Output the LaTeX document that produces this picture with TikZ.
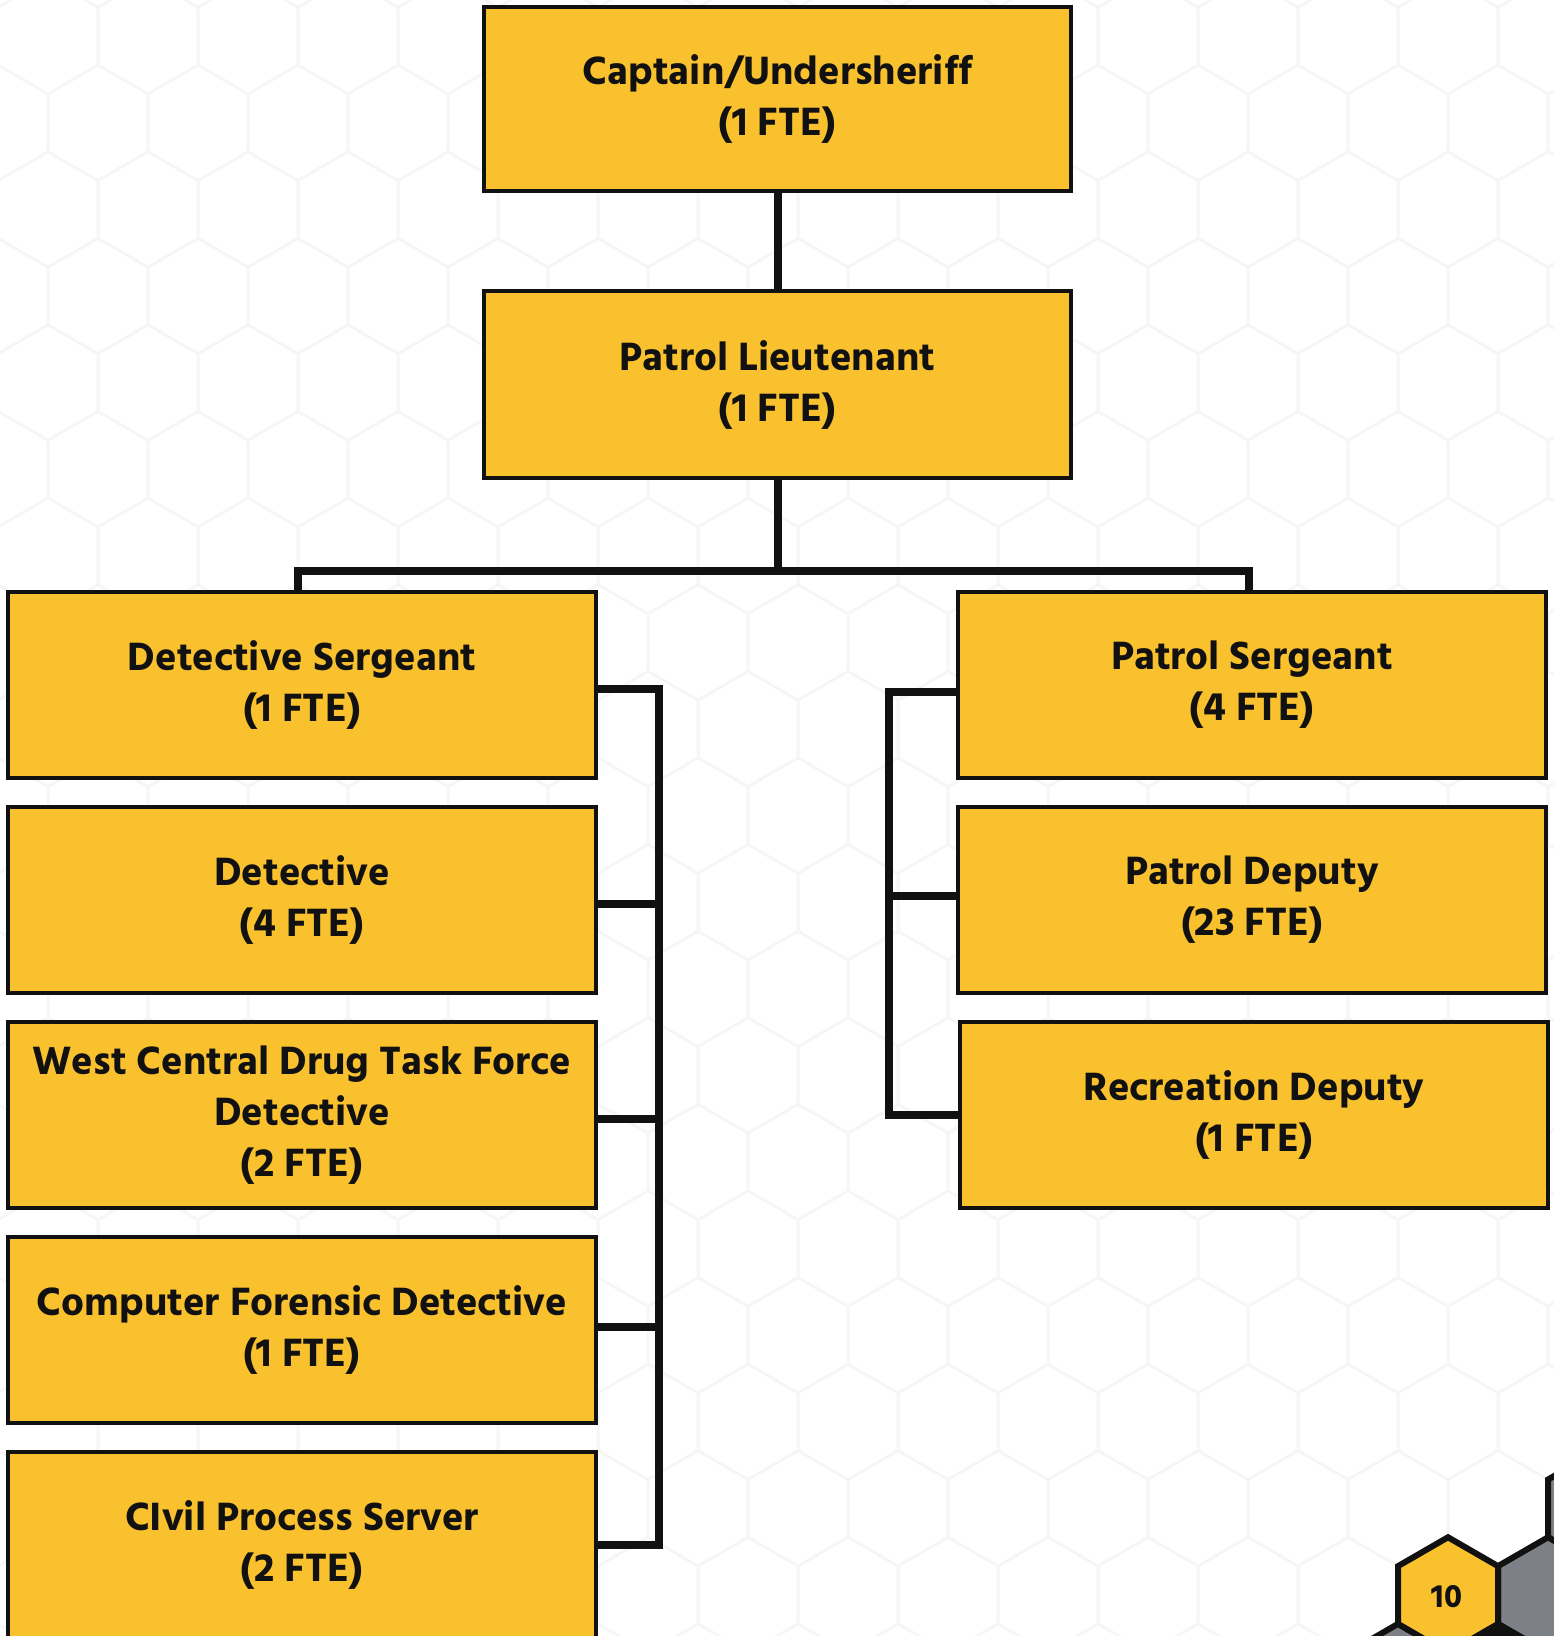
\documentclass[tikz,border=0pt]{standalone}
\usepackage{fontspec}
\setmainfont{Hind Siliguri}[BoldFont={Hind Siliguri Bold}]
\usetikzlibrary{calc}
\definecolor{boxyellow}{HTML}{FAC12F}
\definecolor{hexgray}{HTML}{7D8086}
\definecolor{bgline}{HTML}{F6F6F6}
\definecolor{ink}{HTML}{111111}
\tikzset{
  hexa/.pic={\path[pic actions] (0,-57.74) -- (50,-28.87) -- (50,28.87) -- (0,57.74) -- (-50,28.87) -- (-50,-28.87) -- cycle;},
  rolebox/.style={draw=ink, line width=4pt, fill=boxyellow, minimum width=588pt, minimum height=186pt,
    align=center, inner sep=0pt, text=ink, font=\bfseries\fontsize{40.5}{51}\selectfont},
  conn/.style={draw=ink, line width=8pt, line join=miter},
  bghex/.style={draw=bgline, line width=2.5pt},
  cornerhex/.style={draw=ink, line width=6pt}
}
\begin{document}
\begin{tikzpicture}[x=1pt,y=-1pt]
\useasboundingbox (0,0) rectangle (1554,1636);
\clip (0,0) rectangle (1554,1636);
\fill[white] (0,0) rectangle (1554,1636);
% background honeycomb
\foreach \j in {-19,...,1}{
  \pgfmathsetmacro{\ox}{mod(\j+40,2)==0 ? 48 : -2}
  \foreach \k in {-1,...,16}{
    \pic[bghex] at ({\ox+100*\k},{1595+86.6*\j}) {hexa};
  }
}
% corner hexagons
\pic[cornerhex, fill=hexgray] at (1598,1508.4) {hexa};
\pic[cornerhex, fill=hexgray] at (1548,1595) {hexa};
\pic[cornerhex, fill=hexgray] at (1398,1681.6) {hexa};
\pic[cornerhex, fill=ink] at (1498,1681.6) {hexa};
\pic[cornerhex, fill=boxyellow] at (1448,1595) {hexa};
\node[text=ink, font=\bfseries\fontsize{33}{36}\selectfont] (pg) at (1447,1597) {10};
% boxes
\node[rolebox, minimum width=587pt, minimum height=184pt] (cap) at (777.5,99) {Captain/Undersheriff\\(1 FTE)};
\node[rolebox, minimum width=587pt, minimum height=187pt] (lt) at (777.5,384.5) {Patrol Lieutenant\\(1 FTE)};
\node[rolebox] (ds) at (302,685) {Detective Sergeant\\(1 FTE)};
\node[rolebox] (det) at (302,900) {Detective\\(4 FTE)};
\node[rolebox] (wc) at (302,1115) {West Central Drug Task Force\\Detective\\(2 FTE)};
\node[rolebox] (cf) at (302,1330) {Computer Forensic Detective\\(1 FTE)};
\node[rolebox] (cp) at (302,1545) {CIvil Process Server\\(2 FTE)};
\node[rolebox] (ps) at (1252,685) {Patrol Sergeant\\(4 FTE)};
\node[rolebox] (pd) at (1252,900) {Patrol Deputy\\(23 FTE)};
\node[rolebox] (rd) at (1254,1115) {Recreation Deputy\\(1 FTE)};
% connectors
\coordinate (busL) at (298,571);
\coordinate (busR) at (1249,571);
\coordinate (lbx) at (659,0);
\coordinate (rbx) at (889,0);
\draw[conn] (cap.south) -- (lt.north);
\draw[conn] (lt.south) -- (lt.south |- busL);
\draw[conn] (busL |- ds.north) -- (busL) -- (busR) -- (busR |- ps.north);
\draw[conn] ([yshift=-4pt]ds.east) -- ([yshift=-4pt]ds.east -| lbx) -- (cp.east -| lbx) -- (cp.east);
\draw[conn] ([yshift=-4pt]det.east) -- ([yshift=-4pt]det.east -| lbx);
\draw[conn] ([yshift=-4pt]wc.east) -- ([yshift=-4pt]wc.east -| lbx);
\draw[conn] ([yshift=3pt]cf.east) -- ([yshift=3pt]cf.east -| lbx);
\draw[conn] ([yshift=-7pt]ps.west) -- ([yshift=-7pt]ps.west -| rbx) -- (rd.west -| rbx) -- (rd.west);
\draw[conn] ([yshift=4pt]pd.west) -- ([yshift=4pt]pd.west -| rbx);
\end{tikzpicture}
\end{document}
